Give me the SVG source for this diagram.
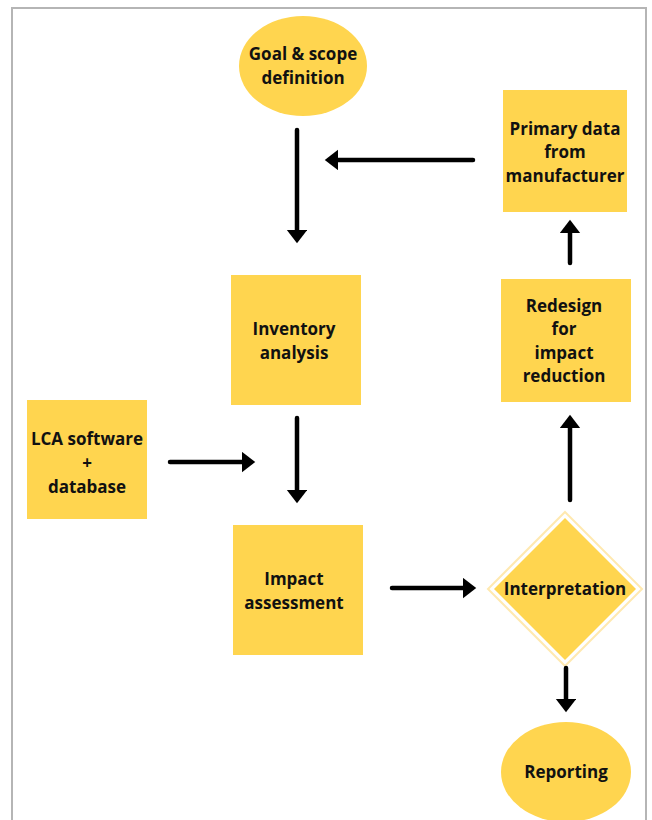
<svg xmlns="http://www.w3.org/2000/svg" width="652" height="820" viewBox="0 0 652 820">
<defs>
<marker id="ah" markerWidth="4" markerHeight="5" refX="0.5" refY="2.3" orient="auto" markerUnits="strokeWidth">
<path d="M0,0 L3,2.3 L0,4.6 Z" fill="#000"/>
</marker>
<style>
.n{fill:#FFD54F}
.t{font-family:"Open Sans","Noto Sans",sans-serif;font-weight:700;font-size:17px;fill:#111;text-anchor:middle}
.c line{stroke:#000;stroke-width:4.5;stroke-linecap:round;marker-end:url(#ah)}
</style>
</defs>
<rect width="652" height="820" fill="#fff"/>
<path d="M12,822 V8 H646 V822" fill="none" stroke="#b5b5b5" stroke-width="2"/>
<g id="goal"><ellipse class="n" cx="303" cy="66" rx="64" ry="50"/><text class="t" x="303" y="60">Goal &amp; scope</text><text class="t" x="303" y="84">definition</text></g>
<g id="primary"><rect class="n" x="503" y="90" width="124" height="122"/><text class="t" x="565" y="135">Primary data</text><text class="t" x="565" y="158">from</text><text class="t" x="565" y="182">manufacturer</text></g>
<g id="inventory"><rect class="n" x="231" y="275" width="130" height="130"/><text class="t" x="294" y="335">Inventory</text><text class="t" x="294" y="359">analysis</text></g>
<g id="redesign"><rect class="n" x="501" y="279" width="130" height="123"/><text class="t" x="564" y="312">Redesign</text><text class="t" x="564" y="335">for</text><text class="t" x="564" y="359">impact</text><text class="t" x="564" y="382">reduction</text></g>
<g id="lca"><rect class="n" x="27" y="400" width="120" height="119"/><text class="t" x="87" y="445">LCA software</text><text class="t" x="87" y="469">+</text><text class="t" x="87" y="493">database</text></g>
<g id="impact"><rect class="n" x="233" y="525" width="130" height="130"/><text class="t" x="294" y="585">Impact</text><text class="t" x="294" y="609">assessment</text></g>
<g id="interpretation"><polygon points="565,512 642,589 565,666 488,589" fill="none" stroke="#FFE9B0" stroke-width="2"/><polygon class="n" points="565,518 636,589 565,660 494,589"/><text class="t" x="565" y="595">Interpretation</text></g>
<g id="reporting"><ellipse class="n" cx="566" cy="772" rx="65" ry="50"/><text class="t" x="566" y="778">Reporting</text></g>
<g class="c">
<line x1="297" y1="130" x2="297" y2="232"/>
<line x1="473" y1="160" x2="336" y2="160"/>
<line x1="570" y1="263" x2="570" y2="231"/>
<line x1="170" y1="462" x2="244" y2="462"/>
<line x1="297" y1="418" x2="297" y2="492"/>
<line x1="392" y1="588" x2="465" y2="588"/>
<line x1="570" y1="500" x2="570" y2="426"/>
<line x1="566" y1="668" x2="566" y2="701"/>
</g>
</svg>
